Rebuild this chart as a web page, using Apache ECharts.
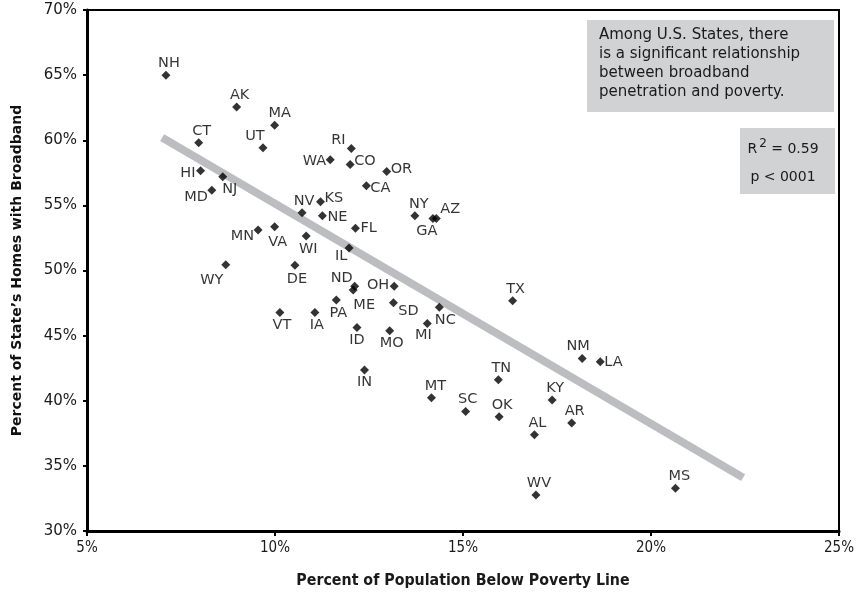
<!DOCTYPE html>
<html>
<head>
<meta charset="utf-8">
<script src="https://cdn.jsdelivr.net/npm/echarts@6/dist/echarts.min.js"></script>
<style>html,body{margin:0;padding:0;background:#fff}#c{width:857px;height:594px}</style>
</head>
<body>
<div id="c"></div>
<script>
// ---- data ----
const states = ['NH','AK','MA','CT','UT','WA','HI','NJ','MD','NV','KS','NE','MN','VA','WI','WY','DE','VT','IA','PA','RI','CO','OR','CA','FL','NY','GA','AZ','IL','ND','ME','OH','SD','NC','MI','ID','MO','TX','NM','LA','IN','MT','SC','TN','OK','KY','AL','AR','WV','MS'];
const poverty = [7.1,8.98,9.99,7.97,9.68,11.47,8.02,8.61,8.32,10.72,11.21,11.26,9.55,9.99,10.83,8.69,10.53,10.13,11.06,11.63,12.03,12.0,12.97,12.43,12.14,13.72,14.2,14.29,11.97,12.12,12.08,13.17,13.15,14.37,14.05,12.18,13.05,16.32,18.17,18.65,12.38,14.16,15.07,15.94,15.96,17.37,16.9,17.89,16.94,20.65];
const broadband = [65.0,62.56,61.16,59.8,59.42,58.5,57.65,57.2,56.17,54.43,55.27,54.2,53.1,53.35,52.64,50.44,50.41,46.78,46.78,47.73,59.37,58.14,57.6,56.5,53.25,54.2,54.0,54.0,51.72,48.8,48.5,48.8,47.52,47.17,45.94,45.63,45.37,47.67,43.25,42.99,42.36,40.23,39.18,41.61,38.77,40.05,37.39,38.29,32.76,33.28];
const trendX = [7.0, 22.45];
const trendY = [60.2, 34.1];
const xTicks = [5, 10, 15, 20, 25];
const yTicks = [30, 35, 40, 45, 50, 55, 60, 65, 70];
const noteText = ['Among U.S. States, there', 'is a significant relationship', 'between broadband', 'penetration and poverty.'];
const statText = ['{r|R}{sup|2}{r| = 0.59}', 'p < 0001'];

// ---- label placement (style) ----
// [align, dx, dy]
const place = {
  NH:['c',3,-12], AK:['c',3,-12], MA:['c',5,-12], CT:['c',3,-12], UT:['c',-8,-12],
  WA:['l',-4,1], HI:['l',-5,2], NJ:['c',7,13], MD:['l',-4,7], NV:['c',2,-12],
  KS:['r',4,-4], NE:['r',5,1], MN:['l',-4,6], VA:['c',3,15], WI:['c',2,13],
  WY:['c',-14,15], DE:['c',2,14], VT:['c',2,13], IA:['c',2,13], PA:['c',2,13],
  RI:['c',-13,-8], CO:['r',4,-3], OR:['r',4,-2], CA:['r',4,2], FL:['r',5,0],
  NY:['c',4,-12], GA:['c',-6,13], AZ:['r',4,-9], IL:['c',-8,8], ND:['c',-13,-8],
  ME:['c',11,15], OH:['l',-5,-1], SD:['c',15,8], NC:['c',6,13], MI:['c',-4,12],
  ID:['c',0,13], MO:['c',2,12], TX:['c',3,-12], NM:['c',-4,-12], LA:['r',4,0],
  IN:['c',0,12], MT:['c',4,-12], SC:['c',2,-12], TN:['c',3,-12], OK:['c',3,-12],
  KY:['c',3,-12], AL:['c',3,-12], AR:['c',3,-12], WV:['c',3,-12], MS:['c',4,-12]
};

const FONT = '"DejaVu Sans", "Liberation Sans", Arial, sans-serif';
const CFONT = '"DejaVu Sans Condensed", "Liberation Sans Narrow", "DejaVu Sans", sans-serif';
const pts = states.map((s, i) => {
  const p = place[s] || ['c', 0, -11];
  return {
    name: s,
    value: [poverty[i], broadband[i]],
    label: {
      show: true,
      position: 'inside',
      formatter: s,
      align: p[0] === 'c' ? 'center' : (p[0] === 'l' ? 'right' : 'left'),
      verticalAlign: 'middle',
      offset: [p[1], p[2]]
    }
  };
});

const chart = echarts.init(document.getElementById('c'), null, {renderer: 'canvas'});
chart.setOption({
  animation: false,
  backgroundColor: '#fff',
  grid: {left: 87, right: 12, top: 10, bottom: 63, show: true, borderColor: '#000', borderWidth: 2, backgroundColor: 'transparent'},
  xAxis: {
    type: 'value', min: 5, max: 25, interval: 5,
    axisLine: {show: true, onZero: false, lineStyle: {color: '#000', width: 3}},
    axisTick: {show: true, inside: false, length: 5, lineStyle: {color: '#000', width: 2}},
    splitLine: {show: false},
    axisLabel: {formatter: v => xTicks.includes(v) ? v + '%' : '', color: '#1a1a1a', fontSize: 15, fontFamily: CFONT, margin: 10},
    name: 'Percent of Population Below Poverty Line', nameLocation: 'middle', nameGap: 42,
    nameTextStyle: {color: '#1a1a1a', fontSize: 15.8, fontWeight: 'bold', fontFamily: CFONT}
  },
  yAxis: {
    type: 'value', min: 30, max: 70, interval: 5,
    axisLine: {show: true, onZero: false, lineStyle: {color: '#000', width: 3}},
    axisTick: {show: true, inside: false, length: 4, lineStyle: {color: '#000', width: 2}},
    splitLine: {show: false},
    axisLabel: {formatter: v => yTicks.includes(v) ? v + '%' : '', color: '#1a1a1a', fontSize: 15, fontFamily: FONT, margin: 10},
    name: 'Percent of State\u2019s Homes with Broadband', nameLocation: 'middle', nameGap: 63, nameRotate: 90,
    nameTextStyle: {color: '#111', fontSize: 14, fontWeight: 'bold', fontFamily: FONT}
  },
  series: [
    {
      type: 'line', data: trendX.map((x, i) => [x, trendY[i]]), symbol: 'none', silent: true,
      lineStyle: {color: '#bcbdc0', width: 8, cap: 'butt'}, z: 1
    },
    {
      type: 'scatter', data: pts, symbol: 'diamond', symbolSize: 9,
      itemStyle: {color: '#000'}, z: 3,
      label: {color: '#000', fontSize: 14.5, fontFamily: FONT}
    }
  ],
  graphic: [
    {type: 'rect', left: 587, top: 20, shape: {width: 247, height: 92}, style: {fill: '#d1d2d4'}, z: 10},
    {type: 'text', left: 599, top: 26, z: 11, style: {text: noteText.join('\n'), font: '15px ' + FONT, fill: '#1a1a1a', lineHeight: 19}},
    {type: 'rect', left: 740, top: 128, shape: {width: 95, height: 66}, style: {fill: '#d1d2d4'}, z: 10},
    {type: 'text', x: 783, y: 147, z: 11, style: {text: statText[0], align: 'center', verticalAlign: 'middle', fill: '#1a1a1a', font: '14px ' + FONT,
      rich: {r: {fontSize: 14, fontFamily: FONT, fill: '#1a1a1a', verticalAlign: 'bottom'}, sup: {fontSize: 12, fontFamily: FONT, fill: '#1a1a1a', padding: [0, 0, 6, 2], verticalAlign: 'bottom'}}}},
    {type: 'text', x: 783, y: 177, z: 11, style: {text: statText[1], align: 'center', verticalAlign: 'middle', fill: '#1a1a1a', font: '14px ' + FONT}}
  ]
});
</script>
</body>
</html>
